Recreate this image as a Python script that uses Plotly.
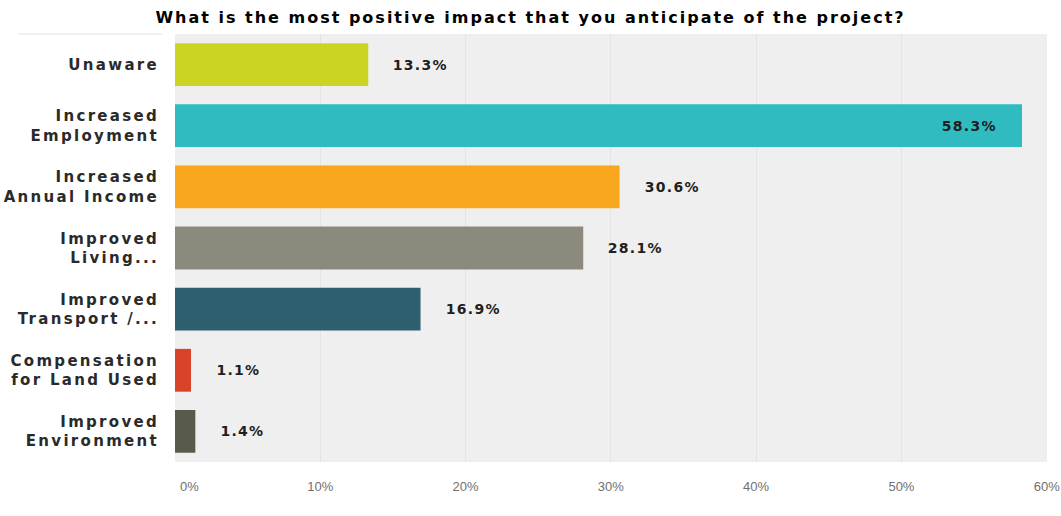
import plotly.graph_objects as go

categories = ["Unaware", "Increased<br>Employment", "Increased<br>Annual Income",
              "Improved<br>Living...", "Improved<br>Transport /...",
              "Compensation<br>for Land Used", "Improved<br>Environment"]
values = [13.3, 58.3, 30.6, 28.1, 16.9, 1.1, 1.4]
colors = ["#cbd422", "#2fbbc0", "#f8a61c", "#8b8a7c", "#2d5f6f", "#d9432a", "#585b4c"]
tick_vals = [0, 10, 20, 30, 40, 50, 60]
tick_text = ["\u00a0" * 8 + "0%", "10%", "20%", "30%", "40%", "50%", "60%"]
title_text = "What is the most positive impact that you anticipate of the project?"

fig = go.Figure(go.Bar(
    x=values, y=categories, orientation="h",
    marker=dict(color=colors, line=dict(width=0)),
    width=0.7, hoverinfo="x+y",
))

vmax = max(values)
for v, c in zip(values, categories):
    inside = v == vmax
    fig.add_annotation(
        x=v, y=c, xref="x", yref="y",
        text=f"{v:.1f}%", showarrow=False,
        xanchor="right" if inside else "left",
        xshift=-26 if inside else 26,
        font=dict(family="DejaVu Sans", size=14, color="#1f1f1f", weight="bold"),
    )

fig.add_shape(type="line", xref="paper", yref="paper", x0=-0.18, x1=-0.015, y0=1, y1=1,
              line=dict(color="#e2e2e2", width=1))

fig.update_layout(
    width=1061, height=516,
    margin=dict(l=175, r=14, t=34, b=54),
    paper_bgcolor="white", plot_bgcolor="#efefef",
    showlegend=False,
    title=dict(text=title_text, x=0.5, xref="container", xanchor="center",
               y=1 - 17 / 516, yref="container", yanchor="middle",
               font=dict(family="DejaVu Sans", size=16, color="black", weight="bold")),
    xaxis=dict(range=[0, 60.02], tickvals=tick_vals, ticktext=tick_text,
               showgrid=True, gridcolor="#e4e4e4", gridwidth=1, zeroline=False,
               ticks="outside", ticklen=12, tickcolor="rgba(0,0,0,0)",
               ticklabeloverflow="allow",
               tickfont=dict(family="Liberation Sans", size=13, color="#707070"),
               showline=False, automargin=False),
    yaxis=dict(autorange="reversed", showgrid=False, zeroline=False,
               ticks="outside", ticklen=12, tickcolor="rgba(0,0,0,0)",
               tickfont=dict(family="DejaVu Sans", size=15, color="#2a2a2a", weight="bold"),
               automargin=False),
)

post_js = """
document.body.style.margin = '0';
var s = document.createElement('style');
s.textContent = '.gtitle{letter-spacing:2px}.ytick text{letter-spacing:2.3px}.annotation-text{letter-spacing:1.3px}';
document.head.appendChild(s);
"""

fig.write_html("out.html", post_script=post_js, config={"displayModeBar": False})
